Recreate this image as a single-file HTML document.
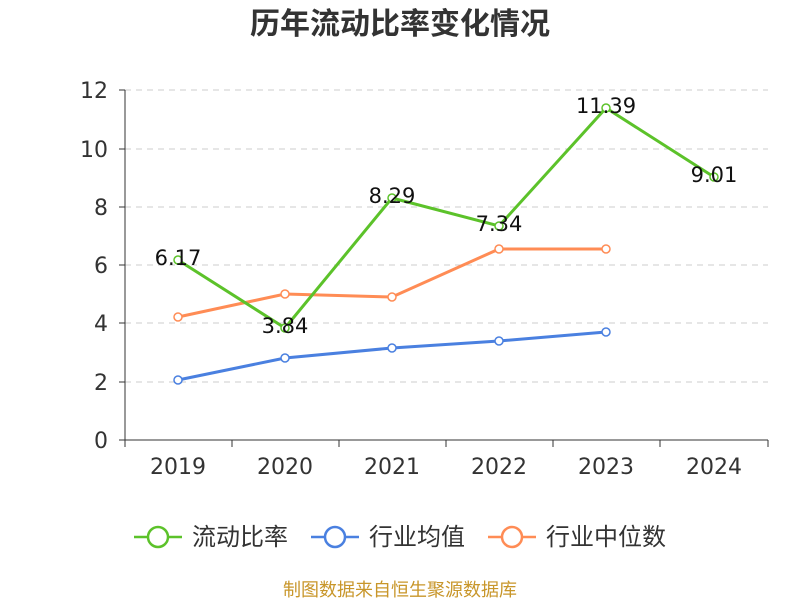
<!DOCTYPE html>
<html><head><meta charset="utf-8"><style>
body{margin:0;background:#fff;}
svg text{font-family:"DejaVu Sans","Noto Sans CJK SC",sans-serif;}
</style></head><body>
<svg width="800" height="600" xmlns="http://www.w3.org/2000/svg">
<text x="400" y="34" text-anchor="middle" font-size="30" font-weight="bold" fill="#333" font-family="Liberation Sans,Noto Sans CJK SC,sans-serif">历年流动比率变化情况</text>
<g stroke="#ccc" stroke-dasharray="6,5" stroke-width="1">
<line x1="125" y1="90" x2="768" y2="90"/><line x1="125" y1="149" x2="768" y2="149"/>
<line x1="125" y1="207" x2="768" y2="207"/><line x1="125" y1="265" x2="768" y2="265"/>
<line x1="125" y1="323" x2="768" y2="323"/><line x1="125" y1="382" x2="768" y2="382"/>
</g>
<g stroke="#333" stroke-width="1">
<line x1="125" y1="90" x2="125" y2="440"/><line x1="125" y1="440" x2="768" y2="440"/>
<line x1="119" y1="90" x2="125" y2="90"/><line x1="119" y1="149" x2="125" y2="149"/><line x1="119" y1="207" x2="125" y2="207"/><line x1="119" y1="265" x2="125" y2="265"/><line x1="119" y1="323" x2="125" y2="323"/><line x1="119" y1="382" x2="125" y2="382"/><line x1="119" y1="440" x2="125" y2="440"/>
<line x1="125" y1="440" x2="125" y2="447"/><line x1="232" y1="440" x2="232" y2="447"/><line x1="339" y1="440" x2="339" y2="447"/><line x1="446" y1="440" x2="446" y2="447"/><line x1="553" y1="440" x2="553" y2="447"/><line x1="660" y1="440" x2="660" y2="447"/><line x1="768" y1="440" x2="768" y2="447"/>
</g>
<g font-size="22" fill="#333" text-anchor="end">
<text x="108" y="98">12</text><text x="108" y="157">10</text><text x="108" y="215">8</text><text x="108" y="273">6</text><text x="108" y="331">4</text><text x="108" y="390">2</text><text x="108" y="448">0</text>
</g>
<g font-size="22" fill="#333" text-anchor="middle">
<text x="178" y="474">2019</text><text x="285" y="474">2020</text><text x="392" y="474">2021</text><text x="499" y="474">2022</text><text x="606" y="474">2023</text><text x="714" y="474">2024</text>
</g>
<g fill="none" stroke-width="3">
<polyline stroke="#4a80e0" points="178,380 285,358 392,348 499,341 606,332"/>
<polyline stroke="#ff8c55" points="178,317 285,294 392,297 499,249 606,249"/>
<polyline stroke="#5cc22a" points="178,260 285,328 392,198 499,226 606,108 714,177"/>
</g>
<g fill="#fff" stroke-width="1.5">
<g stroke="#4a80e0"><circle cx="178" cy="380" r="4"/><circle cx="285" cy="358" r="4"/><circle cx="392" cy="348" r="4"/><circle cx="499" cy="341" r="4"/><circle cx="606" cy="332" r="4"/></g>
<g stroke="#ff8c55"><circle cx="178" cy="317" r="4"/><circle cx="285" cy="294" r="4"/><circle cx="392" cy="297" r="4"/><circle cx="499" cy="249" r="4"/><circle cx="606" cy="249" r="4"/></g>
<g stroke="#5cc22a"><circle cx="178" cy="260" r="4"/><circle cx="285" cy="328" r="4"/><circle cx="392" cy="198" r="4"/><circle cx="499" cy="226" r="4"/><circle cx="606" cy="108" r="4"/><circle cx="714" cy="177" r="4"/></g>
</g>
<g font-size="21" fill="#111" text-anchor="middle">
<text x="178" y="265">6.17</text><text x="285" y="333">3.84</text><text x="392" y="203">8.29</text><text x="499" y="231">7.34</text><text x="606" y="113">11.39</text><text x="714" y="182">9.01</text>
</g>
<g stroke-width="2.5" fill="#fff">
<line x1="134" y1="537" x2="182" y2="537" stroke="#5cc22a"/><circle cx="158" cy="537" r="10" stroke="#5cc22a"/>
<line x1="311" y1="537" x2="359" y2="537" stroke="#4a80e0"/><circle cx="335" cy="537" r="10" stroke="#4a80e0"/>
<line x1="488" y1="537" x2="536" y2="537" stroke="#ff8c55"/><circle cx="512" cy="537" r="10" stroke="#ff8c55"/>
</g>
<g font-size="24" fill="#333">
<text x="192" y="545">流动比率</text><text x="369" y="545">行业均值</text><text x="546" y="545">行业中位数</text>
</g>
<text x="400" y="596" text-anchor="middle" font-size="18" fill="#c8962a">制图数据来自恒生聚源数据库</text>
</svg>
</body></html>
